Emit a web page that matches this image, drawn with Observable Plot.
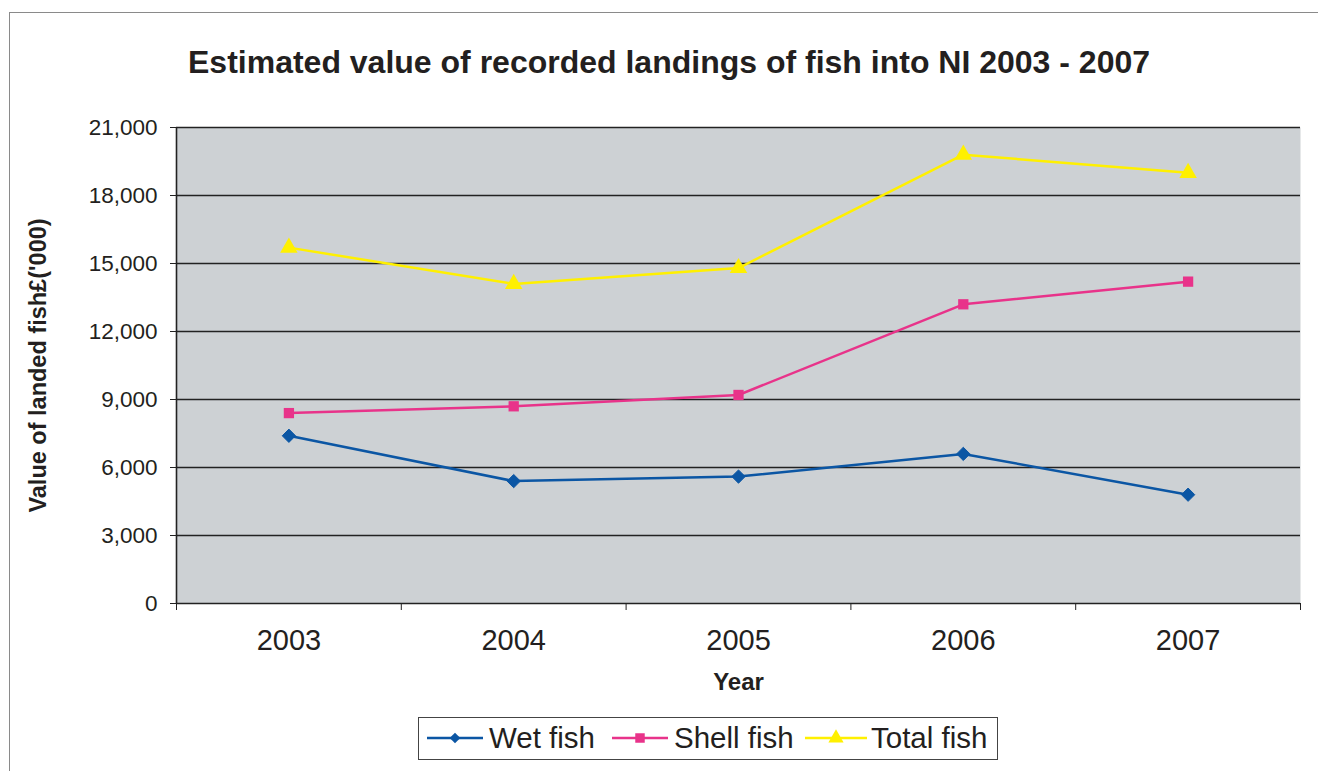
<!DOCTYPE html>
<html>
<head>
<meta charset="utf-8">
<script src="https://cdn.jsdelivr.net/npm/d3@7"></script>
<script src="https://cdn.jsdelivr.net/npm/@observablehq/plot@0.6"></script>
<style>
  html, body { margin: 0; padding: 0; background: #fff; }
  body { width: 1318px; height: 771px; overflow: hidden; position: relative; font-family: "Liberation Sans", Arial, sans-serif; color: #231f20; }
  #border { position: absolute; left: 9px; top: 12px; width: 1400px; height: 900px; border: 1.5px solid #8a8a8a; box-sizing: border-box; }
  #title { position: relative; height: 100px; box-sizing: border-box; padding-top: 44px; line-height: 36px; font-size: 32px; font-weight: bold; text-align: center; padding-left: 20px; }
  #chart { position: relative; }
  #chart svg { display: block; }
  #legend { position: relative; margin-left: 418px; margin-top: 7px; width: 580px; height: 43px; box-sizing: border-box; border: 1.5px solid #444; background: #fff; font-size: 29.5px; }
  .item { position: absolute; top: 0; height: 40px; display: flex; align-items: center; }
  .item svg { display: block; position: absolute; top: 10px; }
  .item span { position: absolute; top: 3px; white-space: nowrap; line-height: 34px; }
</style>
</head>
<body>
<div id="border"></div>
<div id="title">Estimated value of recorded landings of fish into NI 2003 - 2007</div>
<div id="chart"></div>
<div id="legend"></div>
<script>
const years = [2003, 2004, 2005, 2006, 2007];
const seriesNames = ["Wet fish", "Shell fish", "Total fish"];
const wetFish = [7400, 5400, 5600, 6600, 4800];
const shellFish = [8400, 8700, 9200, 13200, 14200];
const totalFish = [15700, 14100, 14800, 19800, 19000];
const yTicks = [0, 3000, 6000, 9000, 12000, 15000, 18000, 21000];
const yearBoundaries = [2002.5, 2003.5, 2004.5, 2005.5, 2006.5, 2007.5];
const colors = ["#0b56a4", "#e8338a", "#fff000"];
const symbols = ["diamond2", "square", "triangle"];
const symbolR = [6, 5.8, 6.5];

const seriesValues = [wetFish, shellFish, totalFish];
const data = [];
seriesNames.forEach((s, i) => years.forEach((y, j) => data.push({series: s, year: y, value: seriesValues[i][j]})));

const plot = Plot.plot({
  width: 1318,
  height: 610,
  marginLeft: 176,
  marginRight: 18,
  marginTop: 27,
  marginBottom: 107,
  style: {fontFamily: "'Liberation Sans', Arial, sans-serif", color: "#231f20", background: "transparent", overflow: "visible"},
  x: {type: "linear", domain: [2002.5, 2007.5]},
  y: {domain: [0, 21000]},
  color: {domain: seriesNames, range: colors},
  symbol: {domain: seriesNames, range: symbols},
  marks: [
    Plot.frame({fill: "#cdd1d4", stroke: null}),
    Plot.ruleY(yTicks, {stroke: "#222", strokeWidth: 1.6}),
    Plot.ruleX([2002.5], {stroke: "#222", strokeWidth: 1.6}),
    Plot.axisY({ticks: yTicks, tickFormat: d3.format(","), tickSize: 6, tickPadding: 13, fontSize: 22.5, label: null, stroke: "#222"}),
    Plot.axisX({ticks: yearBoundaries, tickSize: 7, tickFormat: () => "", label: null, stroke: "#222"}),
    Plot.axisX({ticks: years, tickSize: 0, tickPadding: 26, tickFormat: d => String(d), fontSize: 29, label: null}),
    Plot.line(data, {x: "year", y: "value", z: "series", stroke: "series", strokeWidth: 2.5}),
    ...seriesNames.map((s, i) => Plot.dot(data.filter(d => d.series === s), {x: "year", y: "value", symbol: "series", fill: "series", stroke: "series", strokeWidth: i === 0 ? 1 : 0, r: symbolR[i]})),
    Plot.text(["Year"], {frameAnchor: "bottom", dy: 79, textAnchor: "middle", lineAnchor: "middle", fontWeight: "bold", fontSize: 24}),
    Plot.text(["Value of landed fish£('000)"], {frameAnchor: "left", dx: -138, rotate: -90, textAnchor: "middle", lineAnchor: "middle", fontWeight: "bold", fontSize: 23.5})
  ]
});
document.getElementById("chart").appendChild(plot);

// Legend
const legend = d3.select("#legend");
const itemLayout = [{line: 8, lineW: 56, text: 70}, {line: 193, lineW: 56, text: 255}, {line: 386, lineW: 62, text: 452}];
seriesNames.forEach((s, i) => {
  const L = itemLayout[i];
  const item = legend.append("div").attr("class", "item").style("left", "0px");
  const svg = item.append("svg").attr("width", L.lineW).attr("height", 20).style("left", L.line + "px");
  svg.append("line").attr("x1", 0).attr("x2", L.lineW).attr("y1", 10).attr("y2", 10).attr("stroke", colors[i]).attr("stroke-width", 2.5);
  const sym = [d3.symbolDiamond2, d3.symbolSquare, d3.symbolTriangle][i];
  const size = [72, 90, 100][i];
  svg.append("path").attr("d", d3.symbol(sym, size)()).attr("transform", `translate(${L.lineW/2},10)`).attr("fill", colors[i]);
  item.append("span").text(s).style("left", L.text + "px");
});
</script>
</body>
</html>
